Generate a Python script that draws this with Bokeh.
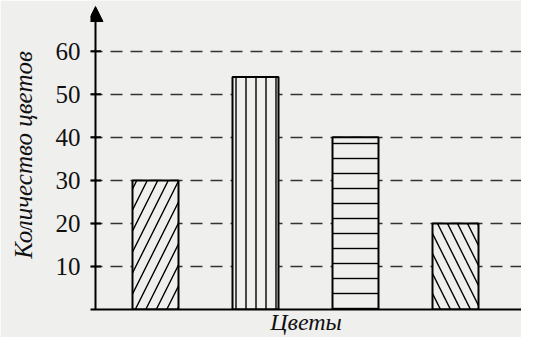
from bokeh.plotting import figure
from bokeh.models import ColumnDataSource, FixedTicker, Arrow, NormalHead, Range1d
from bokeh.embed import file_html
from bokeh.resources import INLINE

# data
flower_index = [1, 2, 3, 4]
flower_counts = [30, 54, 40, 20]
y_ticks = [10, 20, 30, 40, 50, 60]
x_title = "Цветы"
y_title = "Количество цветов"

# per-bar hatch styles
hatches = ["/", "|", "-", "\\"]
hatch_scales = [21, 10, 15, 20]

BG = "#efefed"
AXIS_X = 0.4
Y_TOP = 71.8

src = ColumnDataSource(dict(x=flower_index, top=flower_counts,
                            hatch=hatches, hscale=hatch_scales))

p = figure(width=521, height=337, output_backend="svg", toolbar_location=None,
           x_range=Range1d(0.35, 4.66), y_range=Range1d(0, Y_TOP),
           min_border_left=90, min_border_right=0, min_border_top=0,
           min_border_bottom=0)
p.background_fill_color = BG
p.border_fill_color = BG
p.outline_line_color = None

p.vbar(x="x", top="top", bottom=0, width=0.46, source=src,
       fill_color=BG, line_color="black", line_width=2,
       hatch_pattern="hatch", hatch_scale="hscale", hatch_color="black",
       hatch_weight=1.4)

# x axis
p.xaxis.ticker = FixedTicker(ticks=[])
p.xaxis.major_tick_line_color = None
p.xaxis.minor_tick_line_color = None
p.xaxis.axis_line_width = 2
p.xaxis.axis_line_color = "black"
p.xaxis.axis_label = x_title
p.xaxis.axis_label_text_font = "Liberation Serif"
p.xaxis.axis_label_text_font_style = "italic"
p.xaxis.axis_label_text_font_size = "24px"
p.xaxis.axis_label_text_color = "#111111"
p.xaxis.axis_label_standoff = -1

# y axis at the frame edge: tick labels and title only
ya = p.yaxis[0]
ya.ticker = FixedTicker(ticks=y_ticks)
ya.axis_line_color = None
ya.major_tick_line_color = None
ya.minor_tick_line_color = None
ya.major_tick_in = 0
ya.major_tick_out = 0
ya.major_label_text_font = "Liberation Serif"
ya.major_label_text_font_size = "25px"
ya.major_label_text_color = "#111111"
ya.major_label_standoff = 10
ya.axis_label = y_title
ya.axis_label_text_font = "Liberation Serif"
ya.axis_label_text_font_style = "italic"
ya.axis_label_text_font_size = "25px"
ya.axis_label_text_color = "#111111"
ya.axis_label_standoff = 16

p.xgrid.grid_line_color = None
p.ygrid.ticker = FixedTicker(ticks=y_ticks)
p.ygrid.grid_line_color = "#333333"
p.ygrid.grid_line_width = 1.5
p.ygrid.grid_line_dash = "12 8"

# drawn y axis line with arrow head, and its tick marks
p.add_layout(Arrow(x_start=AXIS_X, y_start=0, x_end=AXIS_X, y_end=Y_TOP - 1.4,
                   line_width=2, line_color="black",
                   end=NormalHead(size=15, fill_color="black", line_color="black")))
p.scatter(x=[AXIS_X] * len(y_ticks), y=y_ticks, marker="dash", size=11,
          line_color="black", line_width=2)

open("out.html", "w").write(file_html(p, INLINE))
